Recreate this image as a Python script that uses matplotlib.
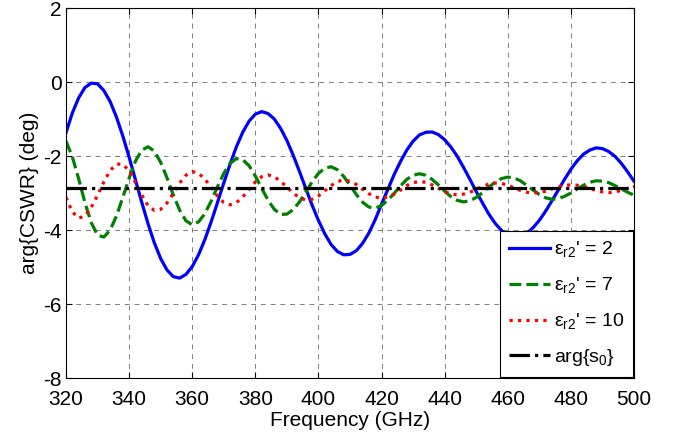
import numpy as np
import matplotlib
matplotlib.use("Agg")
import matplotlib.pyplot as plt

plt.rcParams['font.family'] = ['Liberation Sans', 'DejaVu Sans']
plt.rcParams['axes.unicode_minus'] = False
plt.rcParams['mathtext.fontset'] = 'custom'
plt.rcParams['mathtext.rm'] = 'Liberation Sans'

# frequency samples (GHz), 320..500 every 2 GHz
freq = np.arange(320, 502, 2)

# arg{CSWR} (deg)
eps2 = [
    -1.37, -0.84, -0.43, -0.15, -0.03, -0.05, -0.23, -0.53, -0.95, -1.46,
    -2.03, -2.64, -3.25, -3.83, -4.35, -4.77, -5.08, -5.26, -5.30, -5.20,
    -4.99, -4.67, -4.26, -3.78, -3.26, -2.73, -2.22, -1.75, -1.36, -1.06,
    -0.87, -0.80, -0.85, -1.00, -1.25, -1.58, -1.98, -2.42, -2.88, -3.33,
    -3.74, -4.10, -4.39, -4.58, -4.67, -4.66, -4.56, -4.36, -4.08, -3.72,
    -3.30, -2.90, -2.50, -2.15, -1.84, -1.60, -1.43, -1.36, -1.35, -1.42,
    -1.56, -1.76, -2.01, -2.31, -2.63, -2.96, -3.27, -3.57, -3.82, -4.01,
    -4.14, -4.20, -4.18, -4.09, -3.94, -3.74, -3.49, -3.21, -2.92, -2.63,
    -2.36, -2.13, -1.95, -1.84, -1.78, -1.80, -1.88, -2.01, -2.20, -2.43,
    -2.68,
]
eps7 = [
    -1.60, -2.02, -2.61, -3.26, -3.80, -4.14, -4.19, -4.00, -3.62, -3.12,
    -2.60, -2.14, -1.84, -1.75, -1.87, -2.17, -2.59, -3.05, -3.46, -3.75,
    -3.86, -3.78, -3.56, -3.22, -2.83, -2.47, -2.20, -2.07, -2.10, -2.26,
    -2.54, -2.87, -3.19, -3.44, -3.58, -3.57, -3.45, -3.24, -2.97, -2.70,
    -2.47, -2.33, -2.29, -2.37, -2.55, -2.79, -3.04, -3.25, -3.38, -3.41,
    -3.34, -3.19, -3.01, -2.81, -2.63, -2.52, -2.48, -2.52, -2.63, -2.78,
    -2.95, -3.10, -3.20, -3.24, -3.21, -3.12, -2.99, -2.84, -2.71, -2.61,
    -2.57, -2.59, -2.67, -2.79, -2.92, -3.04, -3.13, -3.17, -3.15, -3.09,
    -3.00, -2.89, -2.79, -2.71, -2.67, -2.68, -2.72, -2.80, -2.89, -2.98,
    -3.06,
]
eps10 = [
    -3.12, -3.51, -3.68, -3.62, -3.39, -3.06, -2.70, -2.39, -2.22, -2.22,
    -2.40, -2.71, -3.05, -3.34, -3.47, -3.44, -3.27, -3.01, -2.73, -2.52,
    -2.42, -2.47, -2.62, -2.85, -3.08, -3.26, -3.32, -3.26, -3.11, -2.90,
    -2.70, -2.56, -2.51, -2.56, -2.68, -2.84, -3.00, -3.13, -3.19, -3.17,
    -3.08, -2.94, -2.80, -2.69, -2.65, -2.68, -2.77, -2.90, -3.02, -3.11,
    -3.14, -3.11, -3.03, -2.92, -2.80, -2.72, -2.69, -2.71, -2.78, -2.87,
    -2.96, -3.03, -3.05, -3.03, -2.98, -2.90, -2.82, -2.76, -2.73, -2.74,
    -2.79, -2.86, -2.93, -2.98, -3.00, -2.99, -2.95, -2.89, -2.84, -2.79,
    -2.78, -2.79, -2.82, -2.88, -2.93, -2.97, -2.99, -2.97, -2.93, -2.87,
    -2.82,
]
arg_s0 = -2.86

labels = ["ε$_{\\mathregular{r2}}$' = 2", "ε$_{\\mathregular{r2}}$' = 7",
          "ε$_{\\mathregular{r2}}$' = 10", "arg{s$_{\\mathregular{0}}$}"]
xticks = list(range(320, 501, 20))
yticks = list(range(-8, 3, 2))

fig = plt.figure(figsize=(6.79, 4.40), dpi=100)
ax = fig.add_axes([0.0972, 0.1409, 0.8365, 0.8409])

ax.plot(freq, eps2, color='#0000ff', lw=2.3, ls='-', label=labels[0])
ax.plot(freq, eps7, color='#008000', lw=2.3, ls='--', label=labels[1])
ax.plot(freq, eps10, color='#ff0000', lw=2.3, ls=':', label=labels[2])
ax.plot(freq, np.full(len(freq), arg_s0), color='black', lw=2.3, ls='-.', label=labels[3])

ax.set_xlim(320, 500)
ax.set_ylim(-8, 2)
ax.set_xticks(xticks)
ax.set_yticks(yticks)
ax.tick_params(direction='in', top=True, right=True, length=4, labelsize=15, width=0.8)
ax.tick_params(axis='x', pad=8.5)
ax.tick_params(axis='y', pad=3)
ax.grid(True, ls=(0, (5, 5)), color='#808080', lw=0.7)
for s in ax.spines.values():
    s.set_linewidth(0.8)

ax.set_xlabel('Frequency (GHz)', fontsize=15, labelpad=1.5)
ax.set_ylabel('arg{CSWR} (deg)', fontsize=15, labelpad=3)

leg = ax.legend(loc='lower right', fontsize=14, fancybox=False, framealpha=1,
                edgecolor='black', borderaxespad=0.05, handlelength=2.1,
                labelspacing=0.8, handletextpad=0.2, borderpad=0.45)
leg.get_frame().set_linewidth(0.8)

fig.savefig('out.png', dpi=100)
